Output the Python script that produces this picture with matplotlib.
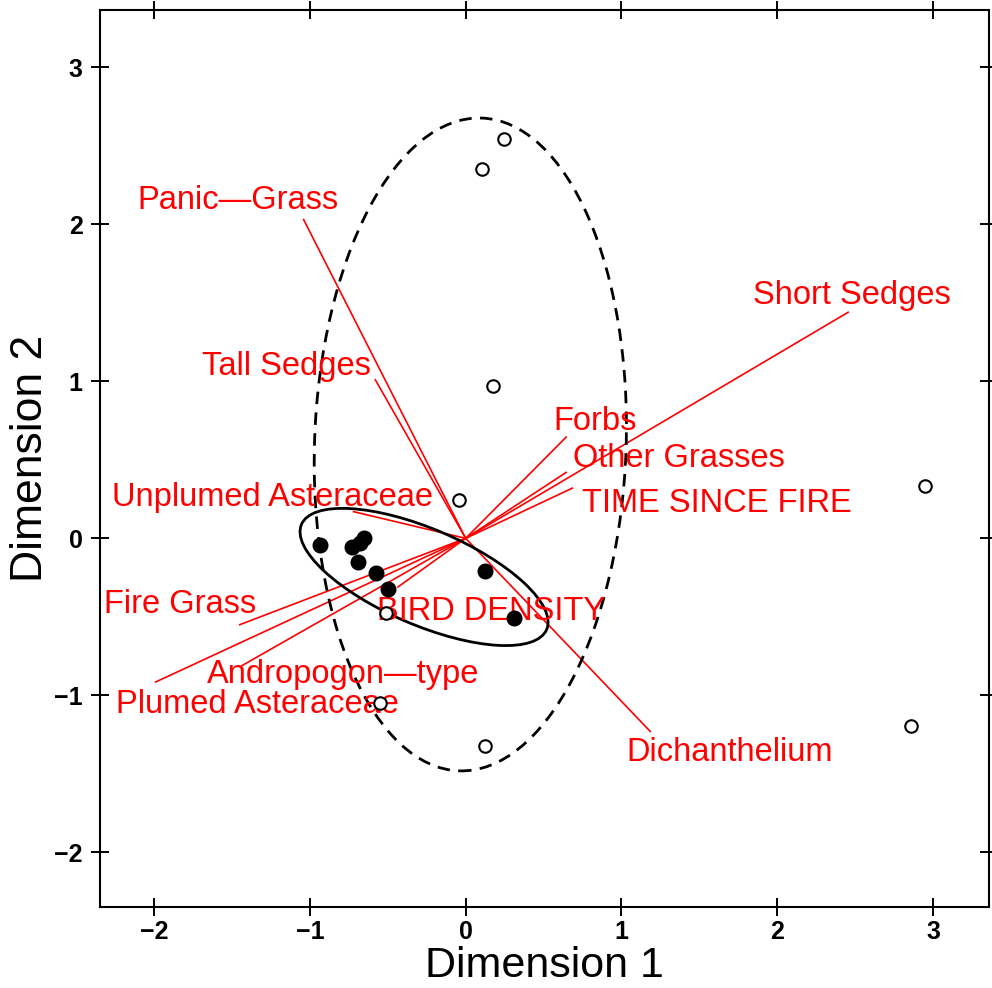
import numpy as np
import matplotlib.pyplot as plt
from matplotlib.patches import Ellipse

plt.rcParams['font.family'] = ['Liberation Sans', 'DejaVu Sans']

# Site scores (filled = one group, open = the other)
filled_x = [-0.934, -0.73, -0.68, -0.65, -0.69, -0.575, -0.50, 0.125, 0.31]
filled_y = [-0.04, -0.055, -0.03, 0.00, -0.15, -0.22, -0.32, -0.21, -0.51]

open_x = [0.245, 0.105, 0.175, -0.04, 2.95, 2.86, 0.125, -0.55, -0.51]
open_y = [2.545, 2.35, 0.97, 0.245, 0.335, -1.195, -1.32, -1.05, -0.475]

# Variable vectors (tips)
var_names = ["Panic\u2014Grass", "Tall Sedges", "Short Sedges", "Forbs",
             "Other Grasses", "TIME SINCE FIRE", "Unplumed Asteraceae",
             "Fire Grass", "Plumed Asteraceae", "Andropogon\u2014type",
             "BIRD DENSITY", "Dichanthelium"]
var_x = [-1.04, -0.58, 2.455, 0.645, 0.645, 0.685, -0.72, -1.45, -1.99,
         -1.435, -0.435, 1.185]
var_y = [2.03, 1.01, 1.44, 0.645, 0.42, 0.32, 0.17, -0.55, -0.915,
         -0.81, -0.31, -1.23]

# label anchors (centre x, baseline y)
label_x = [-1.464, -1.153, 2.477, 0.83, 1.37, 1.61, -1.239, -1.836,
           -1.336, -0.784, 0.166, 1.697]
label_y = [2.095, 1.04, 1.495, 0.69, 0.455, 0.17, 0.205, -0.475,
           -1.11, -0.92, -0.52, -1.42]

# group ellipses: centre, width, height, angle
ell_open = (0.03, 0.598, 2.0, 4.16, -2.0)
ell_filled = (-0.267, -0.246, 1.71, 0.612, -23.0)

fig = plt.figure(figsize=(9.92, 9.88), dpi=100)
ax = fig.add_axes([100 / 992, 1 - 907 / 988, 889 / 992, 897 / 988])

for name, x, y, lx, ly in zip(var_names, var_x, var_y, label_x, label_y):
    ax.plot([0, x], [0, y], color="red", lw=1.2, zorder=2)
    ax.text(lx, ly, name, color="red", fontsize=23.5, ha="center",
            va="baseline", zorder=4)

cx, cy, w, h, a = ell_open
ax.add_patch(Ellipse((cx, cy), w, h, angle=a, fill=False, color="black",
                     lw=2.0, linestyle=(0, (4.5, 3)), zorder=3))
cx, cy, w, h, a = ell_filled
ax.add_patch(Ellipse((cx, cy), w, h, angle=a, fill=False, color="black",
                     lw=2.0, zorder=3))

ax.plot(filled_x, filled_y, linestyle="None", marker="o", color="black",
        markersize=10.5, zorder=5)
ax.plot(open_x, open_y, linestyle="None", marker="o", markerfacecolor="white",
        markeredgecolor="black", markeredgewidth=1.5, markersize=9, zorder=5)

ax.set_xlim(-2.347, 3.359)
ax.set_ylim(-2.348, 3.365)
ticks = [-2, -1, 0, 1, 2, 3]
ax.set_xticks(ticks)
ax.set_yticks(ticks)
ax.set_xticklabels(["\u22122", "\u22121", "0", "1", "2", "3"])
ax.set_yticklabels(["\u22122", "\u22121", "0", "1", "2", "3"])
ax.tick_params(direction="inout", length=13, width=1.4, top=True, right=True,
               labelsize=18)
ax.tick_params(axis="x", pad=3)
ax.tick_params(axis="y", pad=6)
for lab in ax.get_xticklabels() + ax.get_yticklabels():
    lab.set_fontweight("bold")
for sp in ax.spines.values():
    sp.set_linewidth(1.5)

ax.set_xlabel("Dimension 1", fontsize=31, labelpad=1)
ax.set_ylabel("Dimension 2", fontsize=32, labelpad=2)

fig.savefig("out.png", dpi=100)
